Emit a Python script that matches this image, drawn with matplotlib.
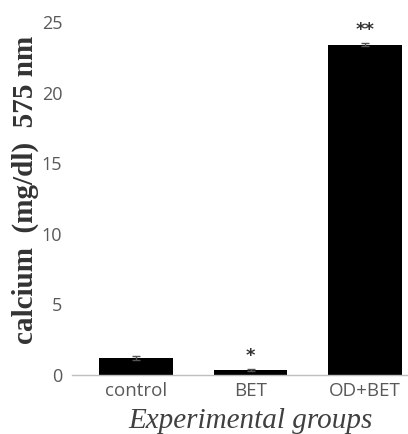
import matplotlib
matplotlib.use("Agg")
import matplotlib.pyplot as plt

categories = ["control", "BET", "OD+BET"]
values = [1.2, 0.35, 23.4]
errors = [0.12, 0.05, 0.12]
marks = ["", "*", "**"]
yticks = [0, 5, 10, 15, 20, 25]

fig = plt.figure(figsize=(4.08, 4.34), dpi=100)
ax = fig.add_axes([72/408, 1 - 375/434, 1 - 72/408, (375 - 22)/434])

x = list(range(len(categories)))
ax.bar(x, values, width=0.64, color="black", zorder=2)
ax.errorbar(x, values, yerr=errors, fmt="none", ecolor="#555555", elinewidth=1,
            capsize=3, capthick=1, zorder=3)
for xi, v, e, m in zip(x, values, errors, marks):
    if m:
        ax.text(xi, v + e + 0.3, m, ha="center", va="bottom", fontsize=13,
                color="#333333", fontweight="bold", family="DejaVu Sans")

ax.set_xlim(-0.56, 2.375)
ax.set_ylim(0, 25)
ax.set_xticks(x)
ax.set_xticklabels(categories)
ax.set_yticks(yticks)
for s in ["top", "right", "left"]:
    ax.spines[s].set_visible(False)
ax.spines["bottom"].set_color("#bfbfbf")
ax.spines["bottom"].set_linewidth(1)
ax.tick_params(axis="both", length=0, labelsize=13, labelcolor="#595959")
ax.tick_params(axis="x", labelsize=13.5)
ax.tick_params(axis="y", pad=7)
ax.tick_params(axis="x", pad=5)
for lab in ax.get_xticklabels() + ax.get_yticklabels():
    lab.set_family("Open Sans")

ax.set_ylabel("calcium  (mg/dl)  575 nm", family="Liberation Serif", fontweight="bold",
              fontsize=21, color="#333333", labelpad=2)
ax.yaxis.label.set_y(0.525)
ax.set_xlabel("Experimental groups", family="Liberation Serif", style="italic",
              fontsize=21, color="#404040", labelpad=6)
ax.xaxis.label.set_x(0.53)

fig.savefig("out.png", dpi=100)
